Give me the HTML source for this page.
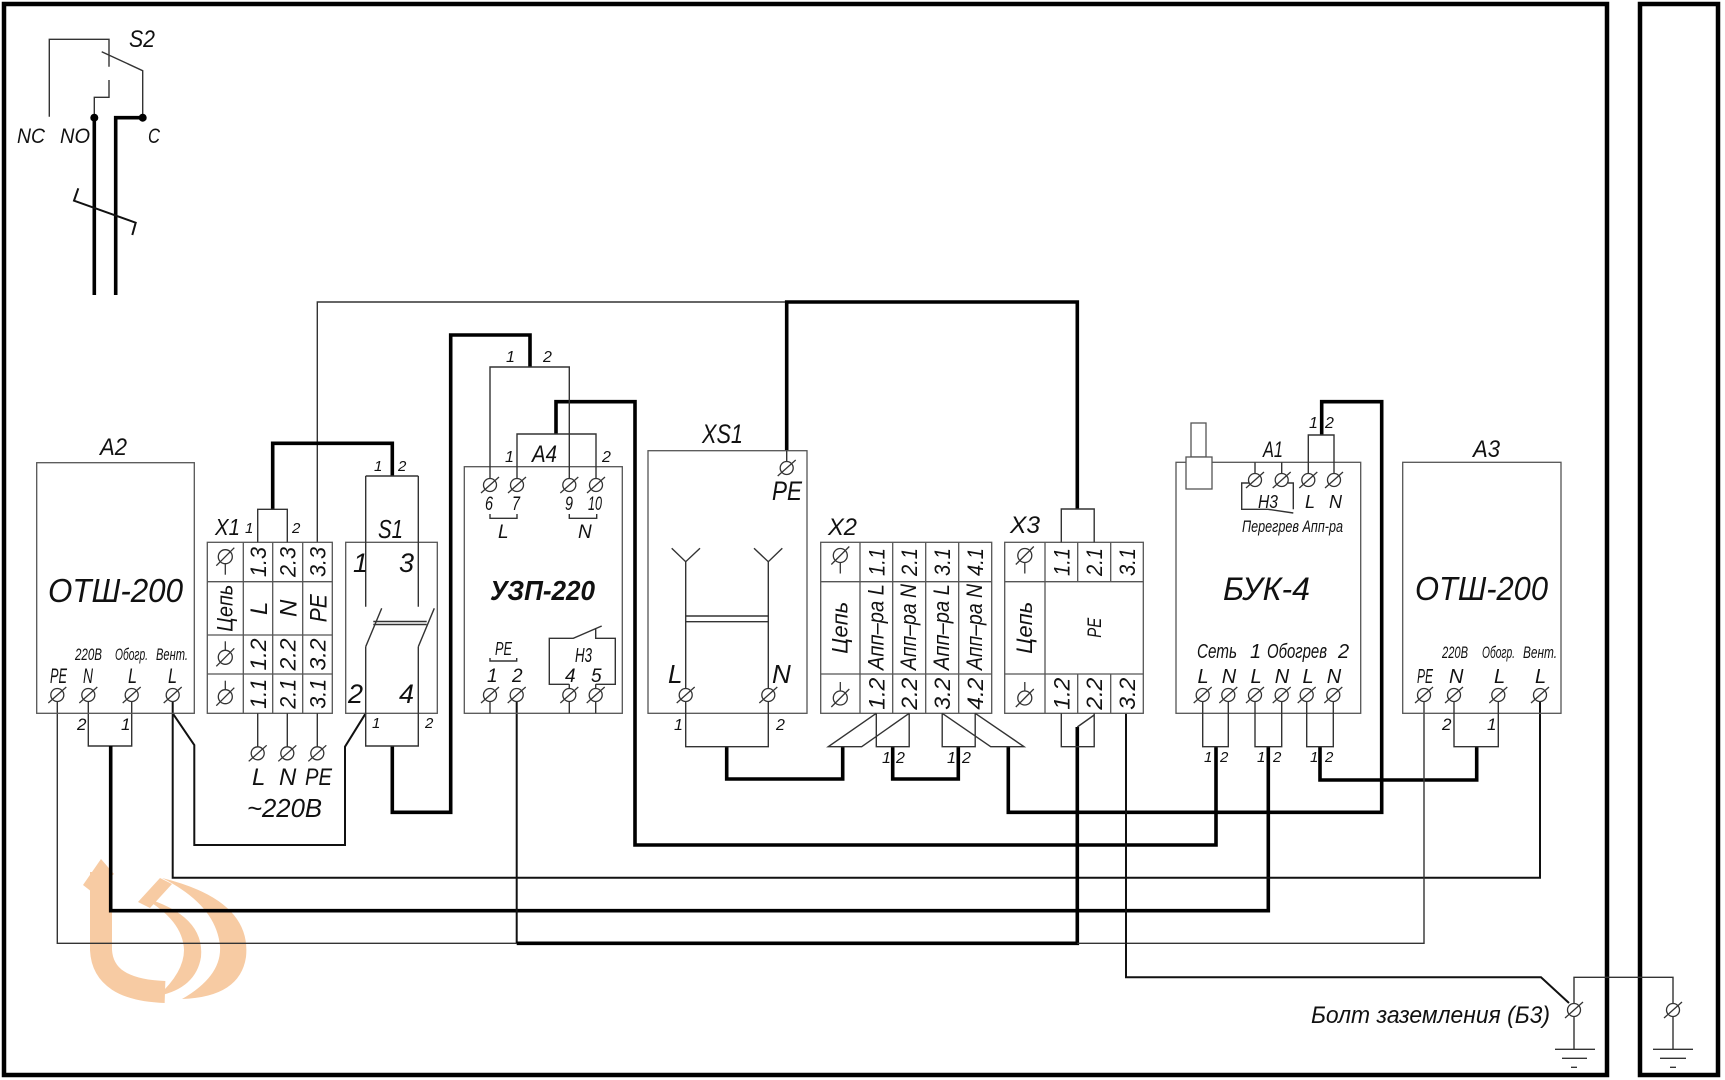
<!DOCTYPE html>
<html><head><meta charset="utf-8"><style>
html,body{margin:0;padding:0;background:#fff}
svg{display:block}
text{font-family:"Liberation Sans","DejaVu Sans",sans-serif;font-style:italic;fill:#111}
.tk{fill:none;stroke:#000;stroke-width:3.6}
.md{fill:none;stroke:#111;stroke-width:2}
.tn{fill:none;stroke:#333;stroke-width:1.4}
.bx{fill:none;stroke:#555;stroke-width:1.3}
</style></head><body>
<svg width="1725" height="1080" viewBox="0 0 1725 1080" xmlns="http://www.w3.org/2000/svg">
<defs>
<g id="t"><circle r="6.5" fill="#fff" stroke="#333" stroke-width="1.3"/><line x1="-9" y1="8" x2="9" y2="-8" stroke="#333" stroke-width="1.3"/></g>
<g id="sd"><circle r="7" fill="none" stroke="#333" stroke-width="1.3"/><line x1="-9" y1="9" x2="9" y2="-9" stroke="#333" stroke-width="1.3"/><line x1="0" y1="7" x2="0" y2="18" stroke="#333" stroke-width="1.3"/></g>
<g id="su"><circle r="7" fill="none" stroke="#333" stroke-width="1.3"/><line x1="-9" y1="9" x2="9" y2="-9" stroke="#333" stroke-width="1.3"/><line x1="0" y1="-7" x2="0" y2="-16" stroke="#333" stroke-width="1.3"/></g>
</defs>
<rect width="1725" height="1080" fill="#fff"/>

<!-- logo watermark -->
<g fill="#f7cba3" stroke="none">
<path d="M101 872 V950 Q103 990 165 992" fill="none" stroke="#f7cba3" stroke-width="22"/>
<polygon points="83,885 101,859 114,874 92,892"/>
<path d="M162 878 Q252 900 246 957 Q240 997 182 999 Q222 976 220 946 Q216 905 162 878 Z"/>
<path d="M142 897 Q205 915 201 957 Q196 988 158 996 Q184 972 184 950 Q183 920 142 897 Z"/>
<path d="M138 902 L160 878 L172 884 L150 908 Z"/>
</g>

<!-- frames -->
<rect x="4" y="4" width="1603" height="1071" fill="none" stroke="#000" stroke-width="4.5"/>
<rect x="1640" y="4" width="78" height="1071" fill="none" stroke="#000" stroke-width="4.5"/>

<!-- S2 -->
<path class="tn" d="M49.3 116.7V39.3H109V66.7M109 80V97.3H94.3V117.7M101.7 51.7L142.7 70.7V117.7"/>
<circle cx="94.3" cy="117.7" r="4" fill="#000"/><circle cx="142.7" cy="117.7" r="4" fill="#000"/>
<path class="tk" d="M94.3 117.7V295M142.7 117.7H115.7V295"/>
<path class="md" d="M78.3 188.3L74 200.7L135.7 222.7L132.3 235"/>
<text x="129" y="47" font-size="24" textLength="26" lengthAdjust="spacingAndGlyphs">S2</text>
<text x="17" y="143" font-size="21" textLength="28" lengthAdjust="spacingAndGlyphs">NC</text>
<text x="60" y="143" font-size="21" textLength="30" lengthAdjust="spacingAndGlyphs">NO</text>
<text x="148" y="143" font-size="21" textLength="12" lengthAdjust="spacingAndGlyphs">C</text>

<!-- wires -->
<path class="tn" d="M57.3 701.5V943.3H516.7"/>
<path class="tn" d="M88.3 701.5V746H131.7V701.5"/>
<path class="tk" d="M110.7 746V910.7H1268.3V746.7"/>
<path class="md" d="M172.7 701.5V877.7H1540V701.5"/>
<path class="md" d="M172.7 713.3L194.3 745V845H345V746.7L365.7 713.3" stroke-width="1.6"/>
<path class="tn" d="M317.3 542.3V302H786.7"/>
<path class="tk" d="M272.7 509.3V443.3H392.3V476"/>
<path class="tk" d="M392.3 746V812.3H450.7V335H530V367"/>
<path class="tk" d="M556 434V401.7H635V845H1216V746.7"/>
<path class="md" d="M516.7 701.5V943.3"/>
<path class="tk" d="M516.7 943.3H1077.3V727"/>
<path class="tk" d="M786.7 450.7V302H1077.3V509"/>
<path class="tk" d="M726.7 746.7V779H842.7V746.7"/>
<path class="tk" d="M892.7 746.7V779H958.3V746.7"/>
<path class="tk" d="M1008.3 746.7V812.3H1381.7V401.7H1321.7V435"/>
<path class="tk" d="M1320 746.7V780H1476.7V746.7"/>
<path class="tn" d="M1424 701.5V943.3H1077.3"/>
<path class="md" d="M1126 713.3V977.3H1541L1569 1003" stroke-width="1.6"/>

<!-- A2 -->
<rect class="bx" x="36.7" y="462.7" width="157.6" height="250.6"/>
<use href="#t" x="57.3" y="695"/><use href="#t" x="88.3" y="695"/><use href="#t" x="131.7" y="695"/><use href="#t" x="172.7" y="695"/>
<text x="100" y="455" font-size="24" textLength="27" lengthAdjust="spacingAndGlyphs">A2</text>
<text x="48" y="602" font-size="33" textLength="135" lengthAdjust="spacingAndGlyphs">ОТШ-200</text>
<text x="75" y="660" font-size="17" textLength="27" lengthAdjust="spacingAndGlyphs">220В</text>
<text x="115" y="660" font-size="17" textLength="33" lengthAdjust="spacingAndGlyphs">Обогр.</text>
<text x="156" y="660" font-size="17" textLength="32" lengthAdjust="spacingAndGlyphs">Вент.</text>
<text x="50" y="683" font-size="21" textLength="17" lengthAdjust="spacingAndGlyphs">PE</text>
<text x="83" y="683" font-size="21" textLength="10" lengthAdjust="spacingAndGlyphs">N</text>
<text x="128" y="683" font-size="21" textLength="9" lengthAdjust="spacingAndGlyphs">L</text>
<text x="168" y="683" font-size="21" textLength="9" lengthAdjust="spacingAndGlyphs">L</text>
<text x="77" y="730" font-size="17">2</text>
<text x="121" y="730" font-size="17">1</text>

<!-- X1 -->
<rect class="bx" x="207.3" y="542.3" width="125" height="171"/>
<path class="bx" d="M207.3 581.7H332.3M207.3 635H332.3M207.3 674H332.3M243.3 542.3V713.3M272.7 542.3V713.3M302.7 542.3V713.3"/>
<path class="tn" d="M257.7 542.3V509.3H287.3V542.3"/>
<path class="tn" d="M257.7 713.3V747M287.3 713.3V747M317.3 713.3V747"/>
<use href="#t" x="257.7" y="753.3"/><use href="#t" x="287.3" y="753.3"/><use href="#t" x="317.3" y="753.3"/>
<use href="#sd" x="225.3" y="556.7"/><use href="#su" x="225.3" y="657.3"/><use href="#su" x="225.3" y="696.7"/>
<text x="215" y="535" font-size="23" textLength="25" lengthAdjust="spacingAndGlyphs">X1</text>
<text x="245" y="533" font-size="15">1</text>
<text x="292" y="533" font-size="15">2</text>
<g font-size="22" text-anchor="middle">
<text transform="translate(258,562) rotate(-90)" dy="8" textLength="30" lengthAdjust="spacingAndGlyphs">1.3</text>
<text transform="translate(287.7,562) rotate(-90)" dy="8" textLength="30" lengthAdjust="spacingAndGlyphs">2.3</text>
<text transform="translate(317.5,562) rotate(-90)" dy="8" textLength="30" lengthAdjust="spacingAndGlyphs">3.3</text>
<text transform="translate(225.3,608.3) rotate(-90)" dy="7" textLength="47" lengthAdjust="spacingAndGlyphs">Цепь</text>
<text transform="translate(258,608.3) rotate(-90)" dy="9" font-size="24">L</text>
<text transform="translate(287.7,608.3) rotate(-90)" dy="9" font-size="24">N</text>
<text transform="translate(317.5,608.3) rotate(-90)" dy="9" font-size="24" textLength="28" lengthAdjust="spacingAndGlyphs">PE</text>
<text transform="translate(258,654.5) rotate(-90)" dy="8" textLength="32" lengthAdjust="spacingAndGlyphs">1.2</text>
<text transform="translate(287.7,654.5) rotate(-90)" dy="8" textLength="32" lengthAdjust="spacingAndGlyphs">2.2</text>
<text transform="translate(317.5,654.5) rotate(-90)" dy="8" textLength="32" lengthAdjust="spacingAndGlyphs">3.2</text>
<text transform="translate(258,693.7) rotate(-90)" dy="8" textLength="30" lengthAdjust="spacingAndGlyphs">1.1</text>
<text transform="translate(287.7,693.7) rotate(-90)" dy="8" textLength="30" lengthAdjust="spacingAndGlyphs">2.1</text>
<text transform="translate(317.5,693.7) rotate(-90)" dy="8" textLength="30" lengthAdjust="spacingAndGlyphs">3.1</text>
</g>
<text x="252" y="785" font-size="24">L</text>
<text x="279" y="785" font-size="24">N</text>
<text x="305" y="785" font-size="24" textLength="27" lengthAdjust="spacingAndGlyphs">PE</text>
<text x="247" y="817" font-size="26" textLength="75" lengthAdjust="spacingAndGlyphs">~220В</text>

<!-- S1 -->
<rect class="bx" x="345.7" y="542.3" width="91.6" height="171"/>
<path class="tn" d="M365.7 476V606.7M365.7 646.7V746H418.3V646.7M418.3 476V606.7M365.7 476H418.3M365.7 646.7L381.7 608.3M418.3 646.7L434.3 608.3"/>
<path class="tn" d="M373.3 621.5H426.7M373.3 624.5H426.7" stroke-width="1"/>
<text x="378" y="538" font-size="26" textLength="25" lengthAdjust="spacingAndGlyphs">S1</text>
<text x="374" y="471" font-size="15">1</text>
<text x="398" y="471" font-size="15">2</text>
<text x="372" y="728" font-size="15">1</text>
<text x="425" y="728" font-size="15">2</text>
<text x="353" y="572" font-size="27">1</text>
<text x="399" y="572" font-size="27">3</text>
<text x="348" y="703" font-size="27">2</text>
<text x="399" y="703" font-size="27">4</text>

<!-- УЗП -->
<rect class="bx" x="464.3" y="466.7" width="158" height="246.6"/>
<path class="tn" d="M490 478.5V367H569.3V478.5M517 478.5V434H596V478.5"/>
<path class="tn" d="M490 514V518.3H517V514M569.3 514V518.3H596.7V514M490 658V661H516.7V658"/>
<path class="tn" d="M490 701.5V713.3M569.3 701.5V713.3M595.7 701.5V713.3M569.3 688.5V684.3M595.7 688.5V684.3"/>
<path class="tn" d="M569.3 684.3H549.3V638.3H573.3L601.7 626M595.7 628V638.3H615.3V684.3H595.7"/>
<use href="#t" x="490" y="485"/><use href="#t" x="517" y="485"/><use href="#t" x="569.3" y="485"/><use href="#t" x="596" y="485"/>
<use href="#t" x="490" y="695"/><use href="#t" x="516.7" y="695"/><use href="#t" x="569.3" y="695"/><use href="#t" x="595.7" y="695"/>
<text x="506" y="362" font-size="16">1</text>
<text x="543" y="362" font-size="16">2</text>
<text x="532" y="462" font-size="24" textLength="25" lengthAdjust="spacingAndGlyphs">A4</text>
<text x="505" y="462" font-size="16">1</text>
<text x="602" y="462" font-size="16">2</text>
<text x="485" y="510" font-size="19" textLength="8" lengthAdjust="spacingAndGlyphs">6</text>
<text x="512" y="510" font-size="19" textLength="8" lengthAdjust="spacingAndGlyphs">7</text>
<text x="565" y="510" font-size="19" textLength="8" lengthAdjust="spacingAndGlyphs">9</text>
<text x="588" y="510" font-size="19" textLength="14" lengthAdjust="spacingAndGlyphs">10</text>
<text x="498" y="538" font-size="19">L</text>
<text x="578" y="538" font-size="19">N</text>
<text x="490" y="600" font-size="28" font-weight="bold" textLength="105" lengthAdjust="spacingAndGlyphs">УЗП-220</text>
<text x="495" y="655" font-size="18" textLength="17" lengthAdjust="spacingAndGlyphs">PE</text>
<text x="487" y="682" font-size="19">1</text>
<text x="512" y="682" font-size="19">2</text>
<text x="565" y="682" font-size="19">4</text>
<text x="591" y="682" font-size="19">5</text>
<text x="575" y="662" font-size="20" textLength="17" lengthAdjust="spacingAndGlyphs">Н3</text>

<!-- XS1 -->
<rect class="bx" x="648" y="450.7" width="159" height="262.6"/>
<path class="tn" d="M786.7 450.7V461.5"/>
<use href="#t" x="786.7" y="468"/>
<path class="tn" d="M671.7 548.3L685.7 561.7L700 548.3M685.7 561.7V688.5M754 548.3L768.3 561.7L782.3 548.3M768.3 561.7V688.5M685.7 616H768.3M685.7 621.7H768.3"/>
<path class="tn" d="M685.7 701.5V746.7H768.3V701.5"/>
<use href="#t" x="685.7" y="695"/><use href="#t" x="768.3" y="695"/>
<text x="702" y="443" font-size="27" textLength="41" lengthAdjust="spacingAndGlyphs">XS1</text>
<text x="772" y="500" font-size="27" textLength="30" lengthAdjust="spacingAndGlyphs">PE</text>
<text x="668" y="683" font-size="26">L</text>
<text x="772" y="683" font-size="26">N</text>
<text x="674" y="730" font-size="16">1</text>
<text x="776" y="730" font-size="16">2</text>

<!-- X2 -->
<rect class="bx" x="820.7" y="542.3" width="171" height="171"/>
<path class="bx" d="M820.7 581.7H991.7M820.7 674H991.7M860 542.3V713.3M892.7 542.3V713.3M925.7 542.3V713.3M958.7 542.3V713.3"/>
<path class="tn" d="M876.3 713.3V746.7H909.2V713.3M876.3 713.3L828.3 746.7H861.7L909.2 713.3M942.2 713.3V746.7H975.2V713.3M942.2 713.3L990.7 746.7H1024L975.2 713.3"/>
<use href="#sd" x="840.3" y="555.5"/><use href="#su" x="840.3" y="698"/>
<text x="828" y="535" font-size="24" textLength="29" lengthAdjust="spacingAndGlyphs">X2</text>
<text x="882" y="763" font-size="16">1</text>
<text x="896" y="763" font-size="16">2</text>
<text x="947" y="763" font-size="16">1</text>
<text x="962" y="763" font-size="16">2</text>
<g font-size="22" text-anchor="middle">
<text transform="translate(876.3,562) rotate(-90)" dy="8" textLength="28" lengthAdjust="spacingAndGlyphs">1.1</text>
<text transform="translate(909.2,562) rotate(-90)" dy="8" textLength="28" lengthAdjust="spacingAndGlyphs">2.1</text>
<text transform="translate(942.2,562) rotate(-90)" dy="8" textLength="28" lengthAdjust="spacingAndGlyphs">3.1</text>
<text transform="translate(975.2,562) rotate(-90)" dy="8" textLength="28" lengthAdjust="spacingAndGlyphs">4.1</text>
<text transform="translate(840.3,627.8) rotate(-90)" dy="7" textLength="52" lengthAdjust="spacingAndGlyphs">Цепь</text>
<text transform="translate(876.3,627) rotate(-90)" dy="7" textLength="86" lengthAdjust="spacingAndGlyphs">Апп–ра L</text>
<text transform="translate(909.2,627) rotate(-90)" dy="7" textLength="86" lengthAdjust="spacingAndGlyphs">Апп–ра N</text>
<text transform="translate(942.2,627) rotate(-90)" dy="7" textLength="86" lengthAdjust="spacingAndGlyphs">Апп–ра L</text>
<text transform="translate(975.2,627) rotate(-90)" dy="7" textLength="86" lengthAdjust="spacingAndGlyphs">Апп–ра N</text>
<text transform="translate(876.3,693.7) rotate(-90)" dy="8" textLength="32" lengthAdjust="spacingAndGlyphs">1.2</text>
<text transform="translate(909.2,693.7) rotate(-90)" dy="8" textLength="32" lengthAdjust="spacingAndGlyphs">2.2</text>
<text transform="translate(942.2,693.7) rotate(-90)" dy="8" textLength="32" lengthAdjust="spacingAndGlyphs">3.2</text>
<text transform="translate(975.2,693.7) rotate(-90)" dy="8" textLength="32" lengthAdjust="spacingAndGlyphs">4.2</text>
</g>

<!-- X3 -->
<rect class="bx" x="1004.7" y="542.3" width="138.6" height="171"/>
<path class="bx" d="M1004.7 581.7H1143.3M1004.7 674H1143.3M1045 542.3V713.3M1077.7 542.3V581.7M1110.7 542.3V581.7M1077.7 674V713.3M1110.7 674V713.3"/>
<path class="tn" d="M1061.3 542.3V509H1094.2V542.3M1061.3 713.3V746.7H1094.2V713.3M1094.2 715L1077.3 727"/>
<use href="#sd" x="1024.8" y="555.5"/><use href="#su" x="1024.8" y="698"/>
<text x="1010" y="533" font-size="24" textLength="30" lengthAdjust="spacingAndGlyphs">X3</text>
<g font-size="22" text-anchor="middle">
<text transform="translate(1061.3,562) rotate(-90)" dy="8" textLength="28" lengthAdjust="spacingAndGlyphs">1.1</text>
<text transform="translate(1094.2,562) rotate(-90)" dy="8" textLength="28" lengthAdjust="spacingAndGlyphs">2.1</text>
<text transform="translate(1127,562) rotate(-90)" dy="8" textLength="28" lengthAdjust="spacingAndGlyphs">3.1</text>
<text transform="translate(1024.8,627.8) rotate(-90)" dy="7" textLength="52" lengthAdjust="spacingAndGlyphs">Цепь</text>
<text transform="translate(1094.2,627.8) rotate(-90)" dy="7" font-size="19" textLength="20" lengthAdjust="spacingAndGlyphs">PE</text>
<text transform="translate(1061.3,693.7) rotate(-90)" dy="8" textLength="32" lengthAdjust="spacingAndGlyphs">1.2</text>
<text transform="translate(1094.2,693.7) rotate(-90)" dy="8" textLength="32" lengthAdjust="spacingAndGlyphs">2.2</text>
<text transform="translate(1127,693.7) rotate(-90)" dy="8" textLength="32" lengthAdjust="spacingAndGlyphs">3.2</text>
</g>

<!-- БУК-4 (A1) -->
<rect class="bx" x="1176" y="462.3" width="184.7" height="251"/>
<rect class="bx" x="1191" y="423" width="15" height="34" fill="#fff"/>
<rect x="1186" y="457" width="26" height="32" fill="#fff" stroke="#555" stroke-width="1.3"/>
<path class="tn" d="M1255 462.3V473.5M1281.7 462.3V473.5M1308.3 473.5V435H1334V473.5"/>
<path class="tn" d="M1249 483H1241.7V509.3H1268L1293.3 513M1288 483H1293.3V509.3"/>
<use href="#t" x="1255" y="480"/><use href="#t" x="1281.7" y="480"/><use href="#t" x="1308.3" y="480"/><use href="#t" x="1334" y="480"/>
<path class="tn" d="M1202.7 701.5V746.7H1228.3V701.5M1255 701.5V746.7H1281.7V701.5M1306.7 701.5V746.7H1333.3V701.5"/>
<use href="#t" x="1202.7" y="695"/><use href="#t" x="1228.3" y="695"/><use href="#t" x="1255" y="695"/><use href="#t" x="1281.7" y="695"/><use href="#t" x="1306.7" y="695"/><use href="#t" x="1333.3" y="695"/>
<text x="1263" y="457" font-size="22" textLength="20" lengthAdjust="spacingAndGlyphs">A1</text>
<text x="1309" y="428" font-size="16">1</text>
<text x="1325" y="428" font-size="16">2</text>
<text x="1258" y="508" font-size="18" textLength="20" lengthAdjust="spacingAndGlyphs">Н3</text>
<text x="1305" y="508" font-size="18">L</text>
<text x="1329" y="508" font-size="18">N</text>
<text x="1242" y="532" font-size="17" textLength="101" lengthAdjust="spacingAndGlyphs">Перегрев Апп-ра</text>
<text x="1223" y="600" font-size="32" textLength="87" lengthAdjust="spacingAndGlyphs">БУК-4</text>
<text x="1197" y="658" font-size="20" textLength="40" lengthAdjust="spacingAndGlyphs">Сеть</text>
<text x="1250" y="658" font-size="20">1</text>
<text x="1267" y="658" font-size="20" textLength="60" lengthAdjust="spacingAndGlyphs">Обогрев</text>
<text x="1338" y="658" font-size="20">2</text>
<g font-size="20" text-anchor="middle">
<text x="1203" y="683">L</text><text x="1229" y="683">N</text><text x="1256" y="683">L</text><text x="1282" y="683">N</text><text x="1308" y="683">L</text><text x="1334" y="683">N</text>
</g>
<text x="1204" y="762" font-size="15">1</text><text x="1220" y="762" font-size="15">2</text>
<text x="1257" y="762" font-size="15">1</text><text x="1273" y="762" font-size="15">2</text>
<text x="1310" y="762" font-size="15">1</text><text x="1325" y="762" font-size="15">2</text>

<!-- A3 -->
<rect class="bx" x="1402.7" y="462.3" width="158.3" height="251"/>
<path class="tn" d="M1454 701.5V746.7H1498.3V701.5"/>
<use href="#t" x="1424" y="695"/><use href="#t" x="1454" y="695"/><use href="#t" x="1498.3" y="695"/><use href="#t" x="1540" y="695"/>
<text x="1473" y="457" font-size="24" textLength="27" lengthAdjust="spacingAndGlyphs">A3</text>
<text x="1415" y="600" font-size="33" textLength="133" lengthAdjust="spacingAndGlyphs">ОТШ-200</text>
<text x="1442" y="658" font-size="17" textLength="26" lengthAdjust="spacingAndGlyphs">220В</text>
<text x="1482" y="658" font-size="17" textLength="33" lengthAdjust="spacingAndGlyphs">Обогр.</text>
<text x="1523" y="658" font-size="17" textLength="34" lengthAdjust="spacingAndGlyphs">Вент.</text>
<text x="1417" y="683" font-size="20" textLength="16" lengthAdjust="spacingAndGlyphs">PE</text>
<text x="1449" y="683" font-size="20">N</text>
<text x="1494" y="683" font-size="20">L</text>
<text x="1535" y="683" font-size="20">L</text>
<text x="1442" y="730" font-size="17">2</text>
<text x="1487" y="730" font-size="17">1</text>

<!-- Ground bolt -->
<path class="tn" d="M1574 1003.5V977.3H1673V1003.5M1574 1016.5V1049.3M1673 1016.5V1049.3M1555 1049.3H1595M1562 1058.3H1587M1571 1067.3H1577M1653 1049.3H1693M1660 1058.3H1686M1670 1067.3H1676"/>
<use href="#t" x="1574" y="1010"/><use href="#t" x="1673" y="1010"/>
<text x="1311" y="1023" font-size="24" textLength="239" lengthAdjust="spacingAndGlyphs" fill="#222">Болт  заземления  (Б3)</text>
</svg>
</body></html>
